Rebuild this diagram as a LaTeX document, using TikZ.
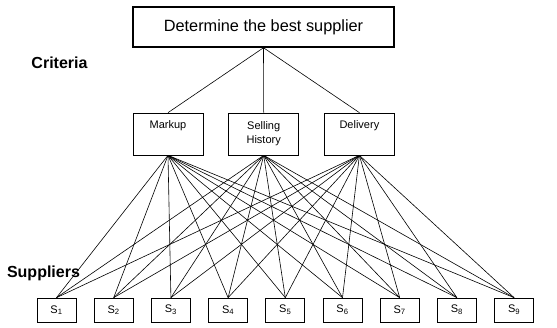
\documentclass[tikz,border=0pt]{standalone}
\usepackage{fontspec}
\setmainfont{Liberation Sans}
\usetikzlibrary{positioning}

\begin{document}
\begin{tikzpicture}[x=1pt,y=-1pt,
    box/.style={draw,rectangle,inner sep=2pt,line width=0.7pt},
    crit/.style={box,minimum width=70pt,minimum height=42pt,align=center,font=\fontsize{11}{14}\selectfont},
    supp/.style={box,minimum width=39pt,minimum height=24pt,font=\fontsize{11}{12}\selectfont},
    level/.style={font=\fontsize{16}{18}\selectfont\bfseries},
    link/.style={line width=0.6pt},
    node distance=25pt]
\useasboundingbox (0,0) rectangle (557,327);
\node[box, line width=1.5pt, minimum width=261pt, minimum height=40pt,
  font=\fontsize{16.3}{18}\selectfont](goal) at (263.5,27){Determine the best supplier};
\node[level](crlabel) at (59.5,63){Criteria};
\node[level](splabel) at (43.5,273){Suppliers};
\begin{scope}[local bounding box=cr]
\node[crit](m) at (168,134){Markup\\\strut};
\node[crit, right=of m](sh){Selling\\History};
\node[crit, right=of sh](d){Delivery\\\strut};
\end{scope}
\node[supp](s1) at (56.5,310){S\textsubscript{1}};
\foreach \i [count=\j from 2] in {1,...,8}
  \node[supp, right=17.5pt of s\i](s\j){S\textsubscript{\j}};
% goal to criteria
\draw[link] (goal.south) -- (m.north);
\draw[link] (goal.south) -- (sh.north);
\draw[link] (goal.south) -- (d.north);
% criteria to suppliers
\foreach \c in {m,sh,d}
  \foreach \s in {1,...,9}
    \draw[link] (\c.south) -- (s\s.north);
\end{tikzpicture}
\end{document}
